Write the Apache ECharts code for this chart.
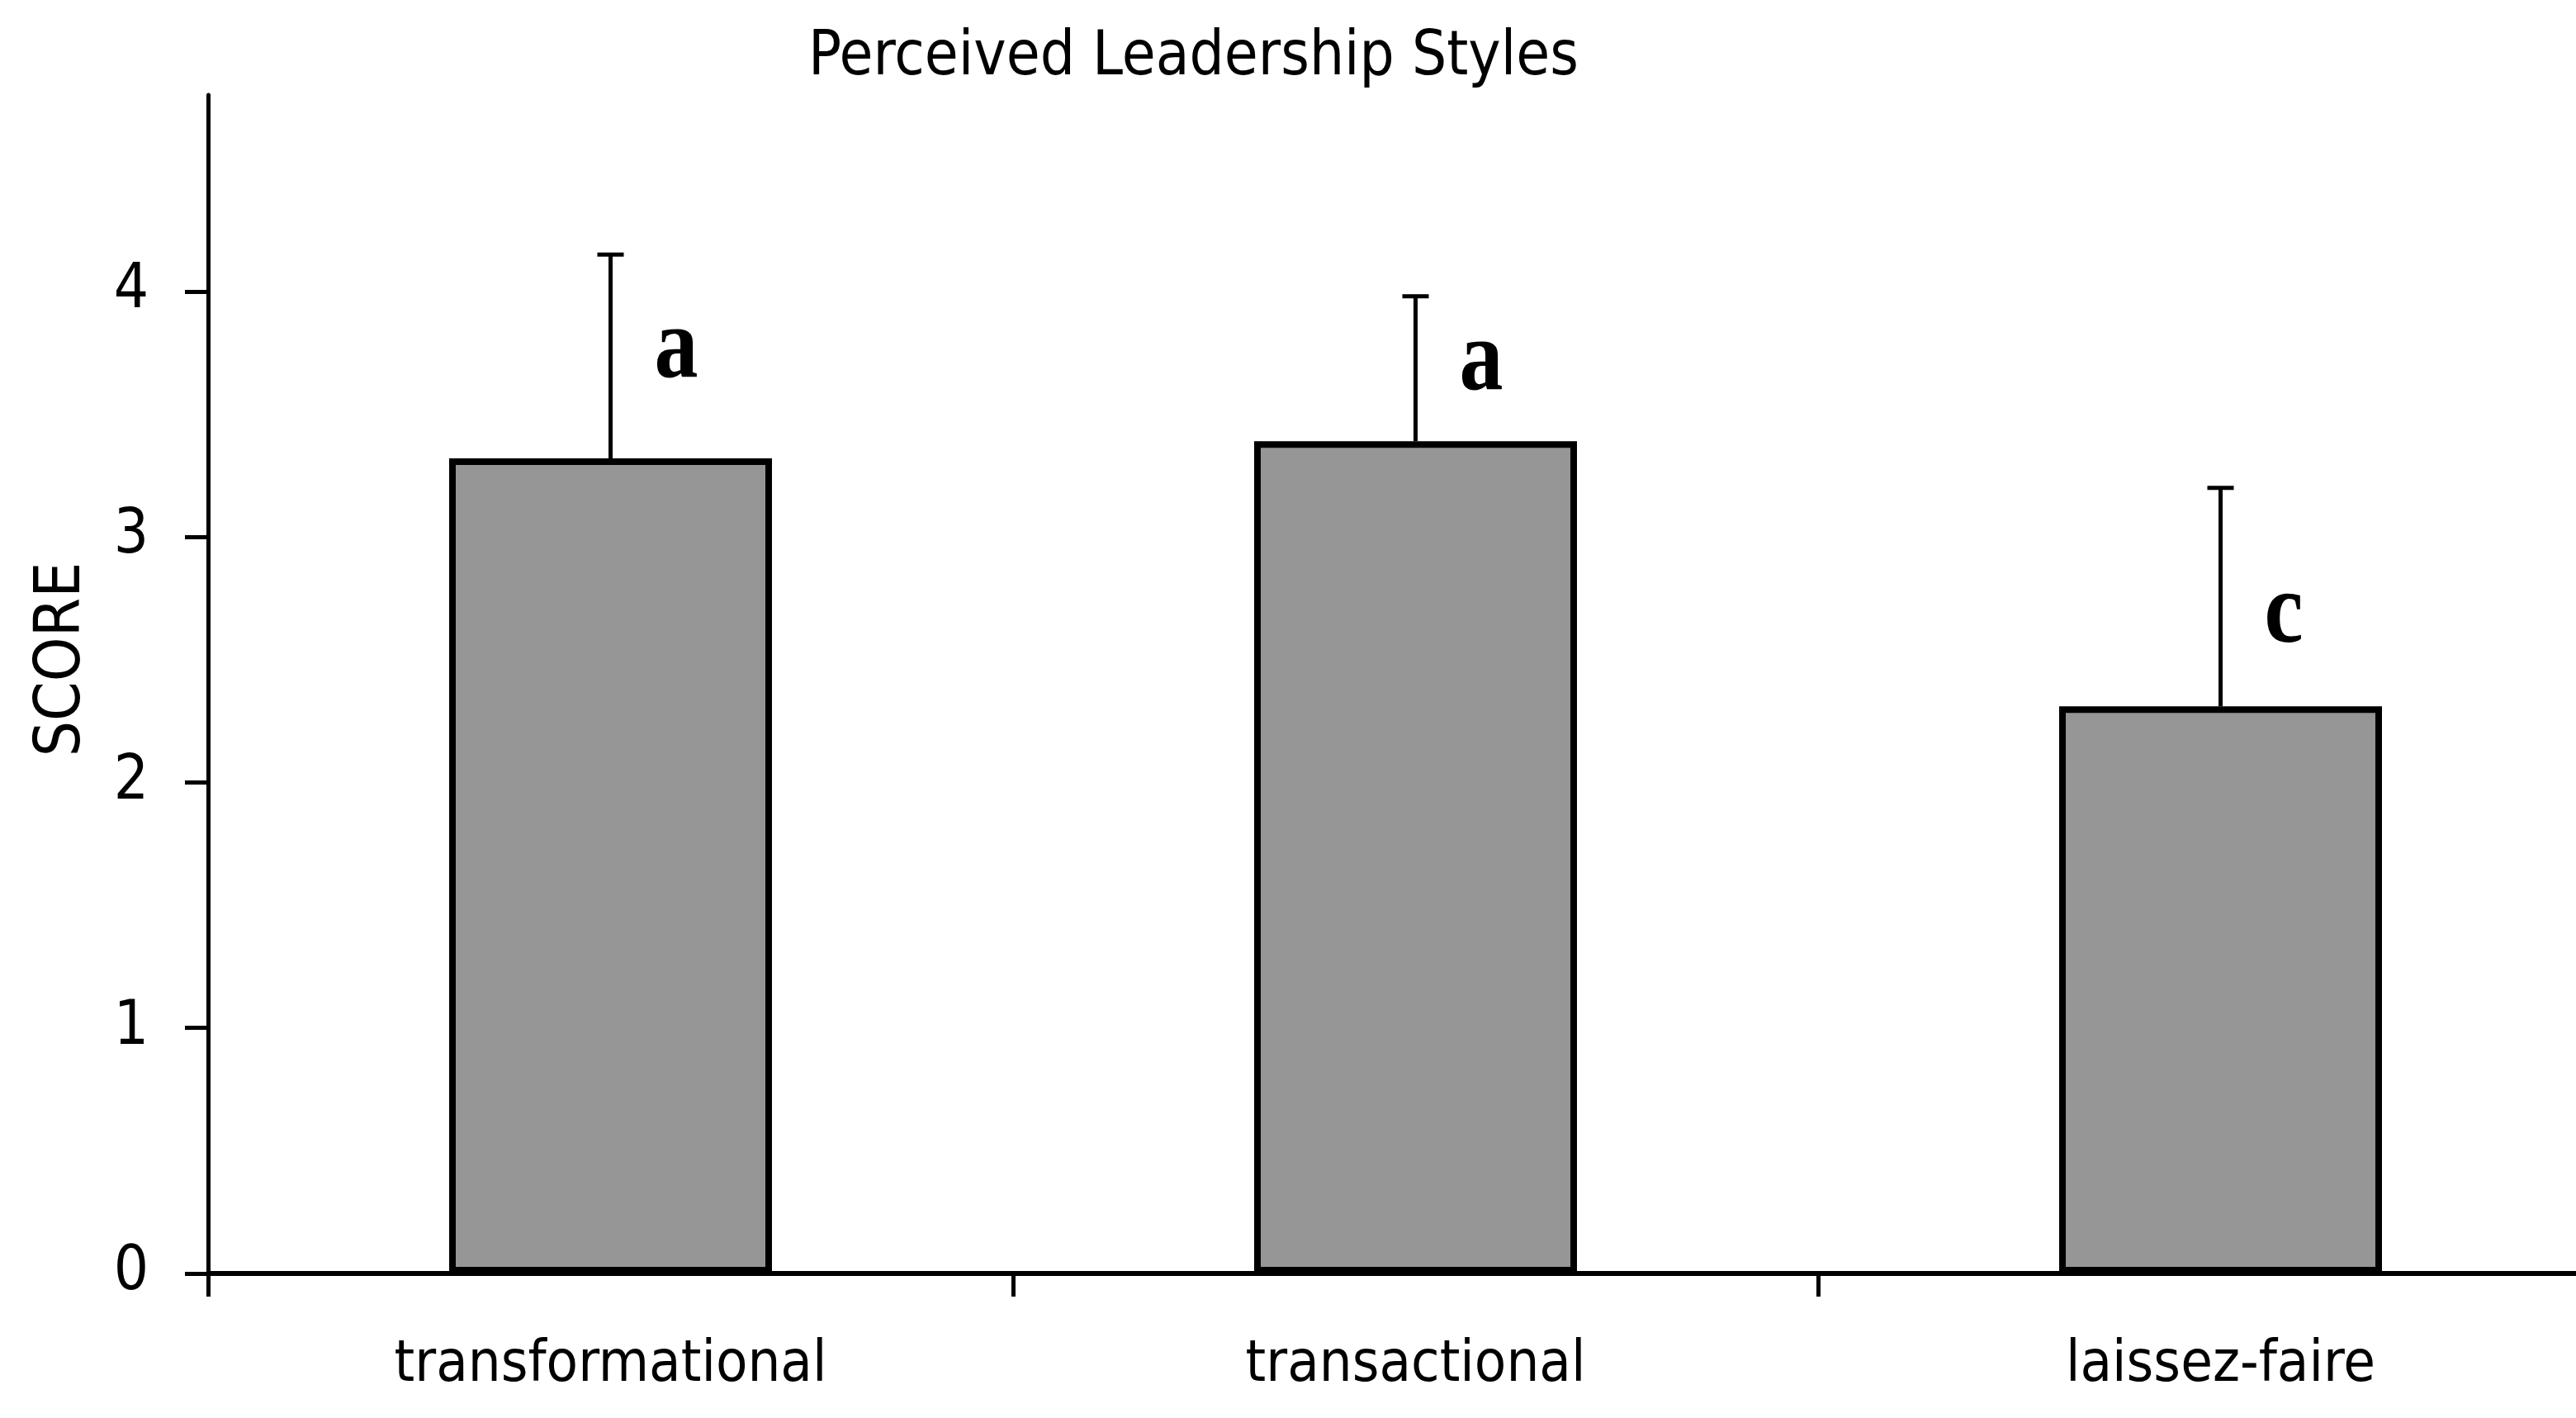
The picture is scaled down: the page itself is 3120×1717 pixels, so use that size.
<!DOCTYPE html>
<html>
<head>
<meta charset="utf-8">
<title>Perceived Leadership Styles</title>
<script src="https://cdn.jsdelivr.net/npm/echarts@6/dist/echarts.min.js"></script>
<style>
    html, body {
        margin: 0;
        padding: 0;
        background: #ffffff;
    }

    #chart {
        width: 3120px;
        height: 1717px;
    }
</style>
</head>
<body>
<div id="chart"></div>
<script>
    // data
    const categories = ['transformational', 'transactional', 'laissez-faire'];
    const meanScores = [3.32, 3.39, 2.31];
    const sdScores = [0.83, 0.59, 0.89];
    const groupLetters = ['a', 'a', 'c'];
    const letterLevels = [3.76, 3.71, 2.68];
    const yTicks = [0, 1, 2, 3, 4];

    const labelFont = 'DejaVu Sans Condensed, Liberation Sans, sans-serif';

    let myChart = echarts.init(document.getElementById('chart'));

    // error bar: stem from the bar top up to mean + sd, with a cap on top only
    function renderErrorBar(params, api) {
        let idx = api.value(0);
        let base = api.coord([idx, api.value(1)]);
        let top = api.coord([idx, api.value(1) + api.value(2)]);
        let lineStyle = {stroke: '#000000', lineWidth: 5};
        return {
            type: 'group',
            children: [
                {type: 'line', shape: {x1: base[0], y1: base[1], x2: top[0], y2: top[1]}, style: lineStyle},
                {type: 'line', shape: {x1: top[0] - 16, y1: top[1], x2: top[0] + 16, y2: top[1]}, style: lineStyle}
            ]
        };
    }

    // significance letters, drawn a bit taller than the font (like the original bitmap font)
    function renderLetter(params, api) {
        let idx = api.value(0);
        let pos = api.coord([idx, api.value(1)]);
        return {
            type: 'text',
            x: pos[0] + 53,
            y: pos[1],
            scaleY: 1.15,
            style: {
                text: groupLetters[idx],
                fontFamily: 'Liberation Serif, DejaVu Serif, serif',
                fontWeight: 'bold',
                fontSize: 106,
                fill: '#000000',
                align: 'left',
                verticalAlign: 'middle'
            }
        };
    }

    let option = {
        backgroundColor: '#ffffff',
        animation: false,
        title: {
            text: 'Perceived Leadership Styles',
            left: 979,
            top: 34,
            padding: 0,
            textStyle: {
                fontFamily: labelFont,
                fontSize: 74,
                fontWeight: 'normal',
                color: '#000000'
            }
        },
        grid: {
            left: 252,
            top: 115,
            bottom: 175,
            width: 2925,
            containLabel: false,
            outerBoundsMode: 'none'
        },
        xAxis: {
            type: 'category',
            data: categories,
            boundaryGap: true,
            axisLine: {lineStyle: {color: '#000000', width: 6}},
            axisTick: {show: true, length: 28, alignWithLabel: false, lineStyle: {color: '#000000', width: 5}},
            axisLabel: {
                margin: 77,
                fontFamily: labelFont,
                fontSize: 70,
                color: '#000000'
            },
            splitLine: {show: false}
        },
        yAxis: {
            type: 'value',
            min: 0,
            max: 4.8,
            interval: 1,
            name: 'SCORE',
            nameLocation: 'middle',
            nameRotate: 90,
            nameGap: 138,
            nameTextStyle: {
                fontFamily: labelFont,
                fontSize: 76,
                color: '#000000',
                padding: [0, 0, 0, 60]
            },
            axisLine: {show: true, lineStyle: {color: '#000000', width: 5}},
            axisTick: {show: true, length: 28, customValues: yTicks, lineStyle: {color: '#000000', width: 5}},
            axisLabel: {
                margin: 72,
                customValues: yTicks,
                fontFamily: labelFont,
                fontSize: 74,
                color: '#000000'
            },
            splitLine: {show: false}
        },
        series: [
            {
                name: 'score',
                type: 'bar',
                barWidth: 391,
                data: meanScores,
                itemStyle: {
                    color: '#969696',
                    borderColor: '#000000',
                    borderWidth: 8
                },
                z: 2
            },
            {
                name: 'sd',
                type: 'custom',
                renderItem: renderErrorBar,
                data: categories.map((c, i) => [i, meanScores[i], sdScores[i]]),
                z: 3
            },
            {
                name: 'letters',
                type: 'custom',
                renderItem: renderLetter,
                data: categories.map((c, i) => [i, letterLevels[i]]),
                z: 4
            }
        ]
    };

    myChart.setOption(option);
</script>
</body>
</html>
